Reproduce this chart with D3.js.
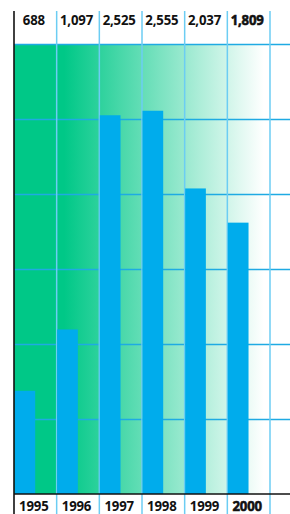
<!DOCTYPE html>
<html><head><meta charset="utf-8">
<script src="https://cdn.jsdelivr.net/npm/d3@7"></script>
<style>html,body{margin:0;padding:0;background:#fff;overflow:hidden}</style>
</head><body>
<svg id="c" width="290" height="514"></svg>
<script>
const years = ["1995","1996","1997","1998","1999","2000"];
const values = [688, 1097, 2525, 2555, 2037, 1809];
const valueLabels = ["688","1,097","2,525","2,555","2,037","1,809"];
const yTicks = [0, 500, 1000, 1500, 2000, 2500, 3000];

(function(){
const svg = d3.select("#c");
const W = 290, H = 514;
const mLeft = 14, mRight = 270, mTop = 44, mBottom = 494;

const x = d3.scaleBand().domain(years).range([mLeft, mRight]).paddingInner(0).paddingOuter(0);
const y = d3.scaleLinear().domain([0, 3000]).range([mBottom, mTop]);

// gradient
const defs = svg.append("defs");
const g = defs.append("linearGradient").attr("id","bg").attr("gradientUnits","userSpaceOnUse")
  .attr("x1", 64).attr("x2", 264).attr("y1",0).attr("y2",0);
g.append("stop").attr("offset","0%").attr("stop-color","#00C887");
g.append("stop").attr("offset","100%").attr("stop-color","#ffffff");

svg.append("rect").attr("x", mLeft).attr("y", y(3000)).attr("width", mRight-mLeft).attr("height", y(0)-y(3000))
  .attr("fill","url(#bg)");

// horizontal gridlines
const grid = svg.append("g").attr("transform", `translate(${mLeft},0)`)
  .call(d3.axisRight(y).tickValues(yTicks.slice(1)).tickSize(W-mLeft).tickFormat(""));
grid.select(".domain").remove();
grid.selectAll(".tick line").attr("stroke","#1FAAE3").attr("stroke-width",1.5);

// vertical lines
svg.append("g").selectAll("line").data(years.slice(1).concat(["end"])).join("line")
  .attr("x1", d => d==="end" ? mRight : x(d)).attr("x2", d => d==="end" ? mRight : x(d))
  .attr("y1", 11).attr("y2", H)
  .attr("stroke","#6CCDF3").attr("stroke-width",1.5);

// bars
svg.append("g").selectAll("rect").data(years).join("rect")
  .attr("x", d => x(d)+0.5)
  .attr("y", (d,i) => y(values[i]))
  .attr("width", x.bandwidth()*0.485)
  .attr("height", (d,i) => y(0)-y(values[i]))
  .attr("fill","#00ACEC");

// bottom axis
svg.append("line").attr("x1", mLeft).attr("x2", W).attr("y1", mBottom).attr("y2", mBottom)
  .attr("stroke","#111").attr("stroke-width",1.5);
// left axis
svg.append("line").attr("x1", mLeft).attr("x2", mLeft).attr("y1", 11).attr("y2", H)
  .attr("stroke","#111").attr("stroke-width",1.6);

const last = years.length-1;
// value labels
svg.append("g").selectAll("text").data(years).join("text")
  .attr("transform", d => `translate(${x(d) + x.bandwidth()/2 - 1.5},25) scale(0.88,1)`)
  .attr("text-anchor","middle")
  .attr("font-family","Open Sans, sans-serif")
  .attr("font-size", 15)
  .attr("letter-spacing", -0.2)
  .attr("font-weight", 700)
  .attr("fill","#111")
  .attr("stroke", (d,i) => i===last ? "#111" : "none")
  .attr("stroke-width", 0.6)
  .text((d,i) => valueLabels[i]);

// year labels
svg.append("g").selectAll("text").data(years).join("text")
  .attr("transform", d => `translate(${x(d) + x.bandwidth()/2 - 1.5},511) scale(0.88,1)`)
  .attr("text-anchor","middle")
  .attr("font-family","Open Sans, sans-serif")
  .attr("font-size", 15)
  .attr("letter-spacing", -0.2)
  .attr("font-weight", 700)
  .attr("fill","#111")
  .attr("stroke", (d,i) => i===last ? "#111" : "none")
  .attr("stroke-width", 0.6)
  .text(d => d);
})();
</script>
</body></html>
